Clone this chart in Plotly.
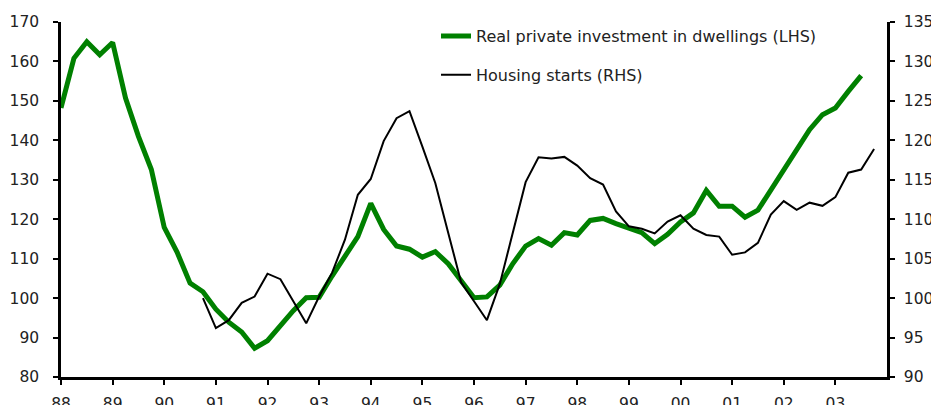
import plotly.graph_objects as go

# quarterly data, x in fractional years
invest_start = 1988.0
investment = [148.2, 160.8, 165.0, 161.7,
              164.8, 150.7, 141.0, 132.6,
              117.9, 111.6, 103.8, 101.6,
              97.2, 93.9, 91.4, 87.3,
              89.2, 93.0, 96.8, 100.1,
              100.2, 105.6, 110.7, 115.6,
              124.0, 117.4, 113.2, 112.4,
              110.4, 111.8, 108.7, 104.4,
              100.1, 100.3, 103.3, 108.7,
              113.2, 115.1, 113.4, 116.6,
              116.0, 119.7, 120.2, 118.9,
              117.9, 116.6, 113.8, 116.2,
              119.3, 121.6, 127.3, 123.3,
              123.3, 120.5, 122.3, 127.5,
              132.6, 137.6, 142.7, 146.5,
              148.2, 152.4, 156.4]

starts_start = 1990.75
starts = [100.0,
          96.2, 97.2, 99.4, 100.2,
          103.1, 102.4, 99.6, 96.8,
          100.2, 103.2, 107.4, 113.1,
          115.1, 119.9, 122.8, 123.7,
          119.2, 114.6, 108.3, 102.0,
          99.6, 97.2, 101.8, 108.3,
          114.7, 117.85, 117.7, 117.9,
          116.8, 115.2, 114.4, 111.0,
          109.1, 108.8, 108.2, 109.7,
          110.5, 108.8, 108.0, 107.8,
          105.5, 105.8, 107.0, 110.6,
          112.3, 111.2, 112.1, 111.7,
          112.8, 115.9, 116.3, 118.9]

year_ticks = list(range(1988, 2004))
year_labels = [str(y)[2:] for y in year_ticks]

x_inv = [invest_start + 0.25 * i for i in range(len(investment))]
x_st = [starts_start + 0.25 * i for i in range(len(starts))]

fig = go.Figure()
fig.add_trace(go.Scatter(x=x_inv, y=investment, mode='lines',
                         name='Real private investment in dwellings (LHS)',
                         legendgroup='a',
                         line=dict(color='#008000', width=5)))
fig.add_trace(go.Scatter(x=x_st, y=starts, mode='lines', yaxis='y2',
                         name='Housing starts (RHS)',
                         legendgroup='b',
                         line=dict(color='black', width=2)))

axis_style = dict(showgrid=False, zeroline=False, showline=True,
                  linecolor='black', linewidth=2.5, ticks='outside',
                  ticklen=5, tickwidth=2, tickcolor='black',
                  automargin=False, tickfont=dict(size=15.5))

fig.update_layout(
    width=931, height=405,
    margin=dict(l=61, r=44, t=22, b=28),
    plot_bgcolor='white', paper_bgcolor='white',
    font=dict(family='DejaVu Sans', size=15.5, color='#222222'),
    xaxis=dict(range=[1988, 2004], tickvals=year_ticks, ticktext=year_labels,
               ticklabelstandoff=6, **axis_style),
    yaxis=dict(range=[80, 170], dtick=10, ticklabelstandoff=11, **axis_style),
    yaxis2=dict(range=[90, 135], dtick=5, overlaying='y', side='right',
                ticklabelstandoff=6, **axis_style),
    showlegend=True,
    legend=dict(x=0.454, y=1.008, xanchor='left', yanchor='top',
                bgcolor='rgba(0,0,0,0)', traceorder='grouped',
                tracegroupgap=15, font=dict(size=16, color='#222222')),
)

# page body has a default 8px margin; drop it so the figure fills the window
fig.write_html("out.html", config={'displayModeBar': False},
               post_script="document.body.style.margin='0';")
